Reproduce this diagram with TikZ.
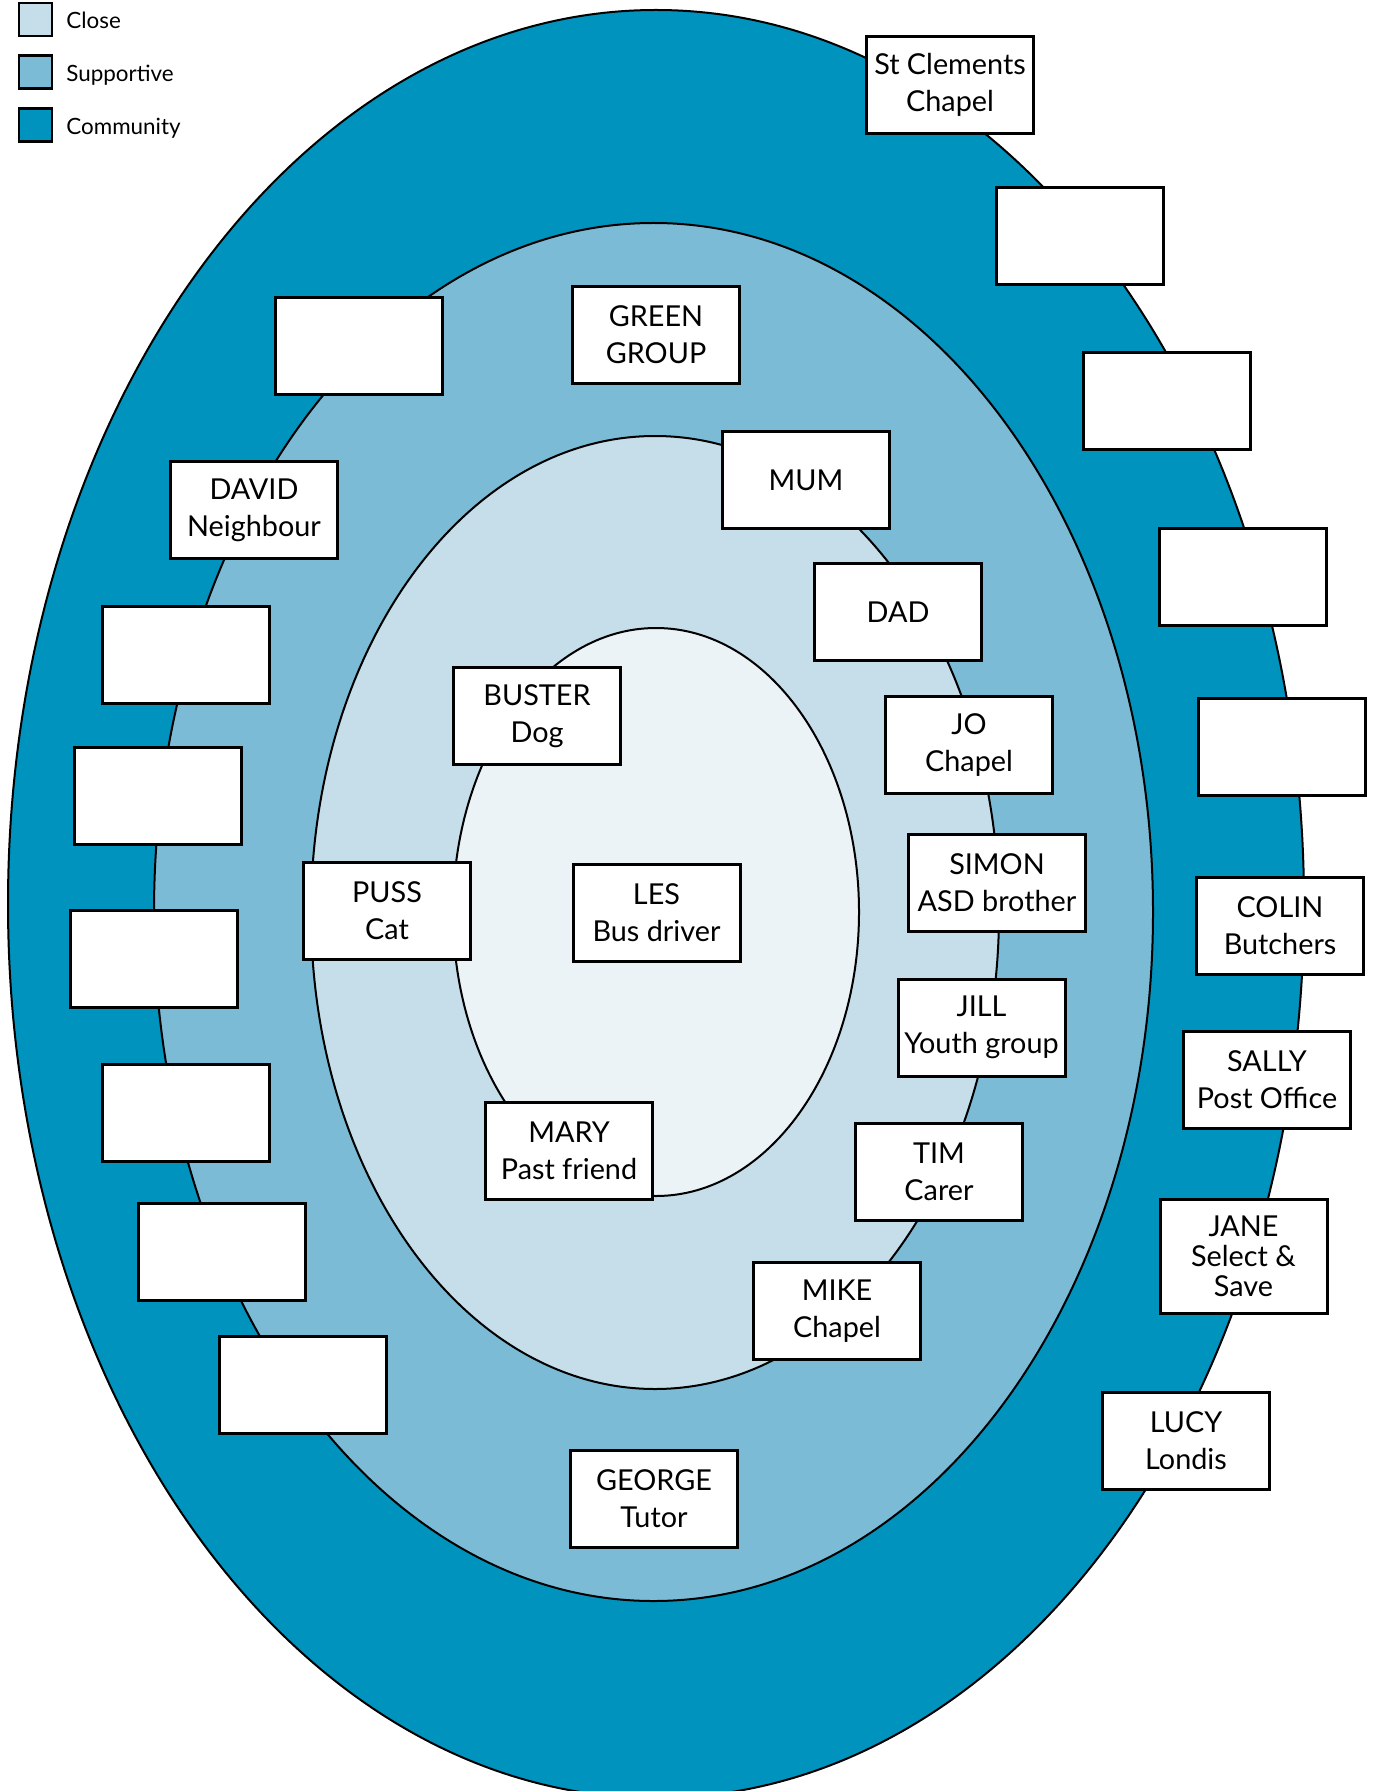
\documentclass[tikz,border=0pt]{standalone}
\usepackage{fontspec}
\setmainfont{Lato}
\definecolor{comm}{RGB}{0,147,189}
\definecolor{supp}{RGB}{124,187,213}
\definecolor{closec}{RGB}{197,222,234}
\definecolor{innerc}{RGB}{235,243,247}
\tikzset{
  ring/.style={draw=black, line width=1pt},
  pbox/.style={draw=black, fill=white, line width=1.5pt, minimum width=83.5pt, minimum height=48.5pt,
    align=center, inner sep=0pt, font=\fontsize{14.4}{18.5}\selectfont},
  legsq/.style={draw=black, line width=1.3pt, minimum width=16.5pt, minimum height=16.5pt, inner sep=0pt},
  legtxt/.style={anchor=west, inner sep=0pt, font=\fontsize{11.2}{13}\selectfont}
}
\begin{document}
\begin{tikzpicture}[x=0.5pt,y=-0.5pt]
\clip (0,0) rectangle (1375,1791);
\useasboundingbox (0,0) rectangle (1375,1791);
% rings
\draw[ring, fill=comm] (656,904) ellipse [x radius=324pt, y radius=447pt];
\draw[ring, fill=supp] (653.5,912) ellipse [x radius=249.75pt, y radius=344.5pt];
\draw[ring, fill=closec] (655,912.5) ellipse [x radius=172pt, y radius=238.25pt];
\draw[ring, fill=innerc] (656,912) ellipse [x radius=101.5pt, y radius=142pt];
% legend
\node[legsq, fill=closec] (lg1) at (35.5,19.5) {};
\node[legsq, fill=supp] (lg2) at (35.5,72) {};
\node[legsq, fill=comm] (lg3) at (35.5,125) {};
\node[legtxt] (lt1) at (66,20.5) {Close};
\node[legtxt] (lt2) at (66,75) {Supportive};
\node[legtxt] (lt3) at (66,128) {Community};
% community boxes
\node[pbox] (stc) at (950,85) {St Clements\\Chapel};
\node[pbox] (e1) at (1080,236) {};
\node[pbox] (e2) at (1167,401) {};
\node[pbox] (e3) at (1243,577) {};
\node[pbox] (e4) at (1282,747) {};
\node[pbox] (colin) at (1280,926) {COLIN\\Butchers};
\node[pbox] (sally) at (1267,1080) {SALLY\\Post Office};
\node[pbox, minimum height=57pt, font=\fontsize{14.4}{15}\selectfont] (jane) at (1243.5,1256.5) {JANE\\Select \&\\Save};
\node[pbox] (lucy) at (1186,1441) {LUCY\\Londis};
\node[pbox] (e5) at (303,1385) {};
\node[pbox] (e6) at (222,1252) {};
\node[pbox] (e7) at (186,1113) {};
\node[pbox] (e8) at (154,959) {};
\node[pbox] (e9) at (158,796) {};
\node[pbox] (e10) at (186,655) {};
\node[pbox] (david) at (254,510) {DAVID\\Neighbour};
\node[pbox] (e11) at (359,346) {};
% supportive boxes
\node[pbox] (green) at (656,335) {GREEN\\GROUP};
\node[pbox] (george) at (654,1499) {GEORGE\\Tutor};
% close boxes
\node[pbox] (mum) at (806,480) {MUM};
\node[pbox] (dad) at (898,612) {DAD};
\node[pbox] (jo) at (969,745) {JO\\Chapel};
\node[pbox, minimum width=88.5pt] (simon) at (997,882.5) {SIMON\\ASD brother};
\node[pbox] (jill) at (981.5,1027.5) {JILL\\Youth group};
\node[pbox] (tim) at (939,1172) {TIM\\Carer};
\node[pbox] (mike) at (837,1311) {MIKE\\Chapel};
\node[pbox] (mary) at (569,1151) {MARY\\Past friend};
\node[pbox] (puss) at (387,911) {PUSS\\Cat};
\node[pbox] (buster) at (537,716) {BUSTER\\Dog};
% centre
\node[pbox] (les) at (656.5,912.5) {LES\\Bus driver};
\end{tikzpicture}
\end{document}
